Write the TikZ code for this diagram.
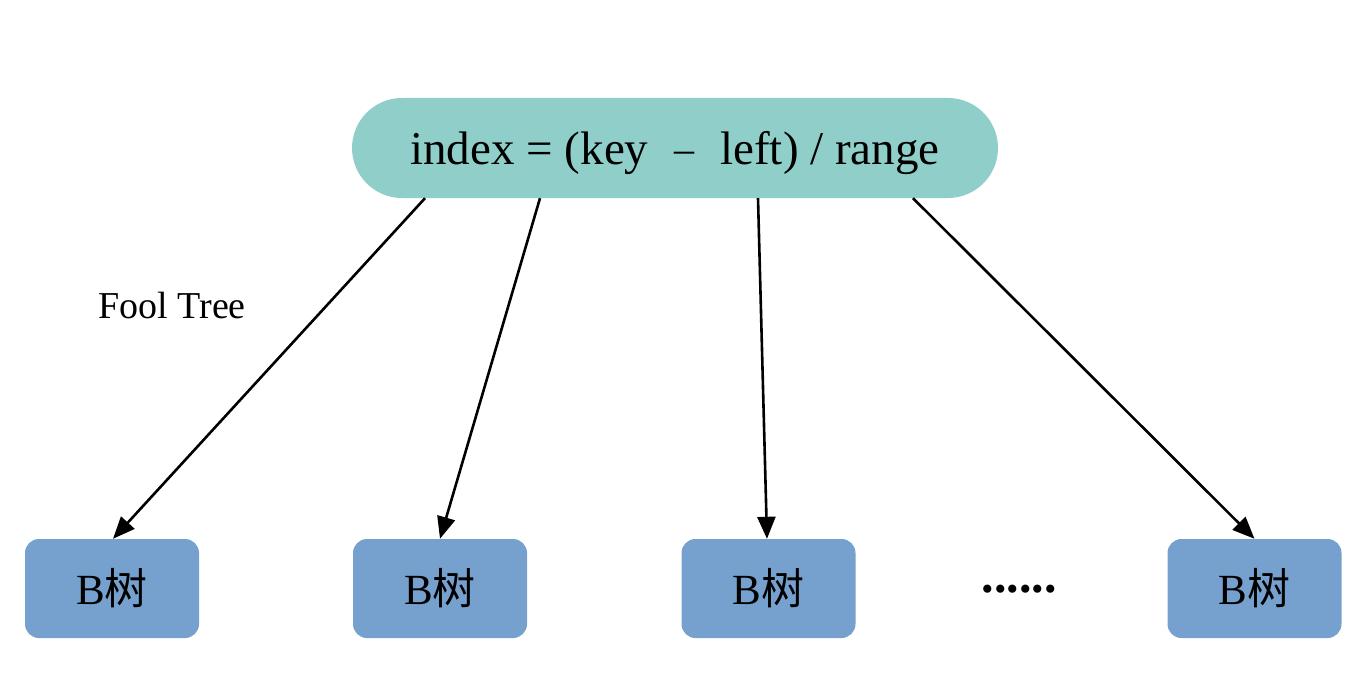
\documentclass[tikz,border=0pt]{standalone}
\usepackage{fontspec}
\setmainfont{Liberation Serif}
\newfontfamily\cjk{Noto Sans CJK SC}
\usetikzlibrary{arrows.meta}
\definecolor{topc}{HTML}{90CFC9}
\definecolor{boxc}{HTML}{76A0CD}
\tikzset{
  topbox/.style={fill=topc, rounded corners=50pt, minimum width=646pt, minimum height=100pt, inner sep=0pt, font=\fontsize{47}{52}\selectfont},
  btree/.style={fill=boxc, rounded corners=14pt, minimum width=174pt, minimum height=99pt, inner sep=0pt, font=\fontsize{43}{48}\selectfont},
  conn/.style={line width=2.6pt, -{Triangle[length=22pt,width=18pt]}},
}
\begin{document}
\begin{tikzpicture}[x=1pt,y=-1pt]
\useasboundingbox (0,0) rectangle (1371,682);
\node[topbox] (top) at (675,148) {\raisebox{-5pt}[\height][\depth]{index = (key\hspace{26pt}\raisebox{2pt}{\fontsize{40}{40}\selectfont –}\hspace{26pt}left) / range}};
\node[btree] (b1) at (112,588.5) {B{\cjk 树}};
\node[btree] (b2) at (440,588.5) {B{\cjk 树}};
\node[btree] (b3) at (768.5,588.5) {B{\cjk 树}};
\node[btree] (b4) at (1254.5,588.5) {B{\cjk 树}};
\node[font=\fontsize{50}{54}\selectfont\bfseries] (dots) at (1019,589) {......};
\node[font=\fontsize{38}{42}\selectfont] (fool) at (172,306) {Fool Tree};
\draw[conn] ([xshift=-250pt]top.south) -- ([xshift=1pt]b1.north);
\draw[conn] ([xshift=-135pt]top.south) -- (b2.north);
\draw[conn] ([xshift=83pt]top.south) -- ([xshift=-1.5pt]b3.north);
\draw[conn] ([xshift=238pt]top.south) -- (b4.north);
\end{tikzpicture}
\end{document}
